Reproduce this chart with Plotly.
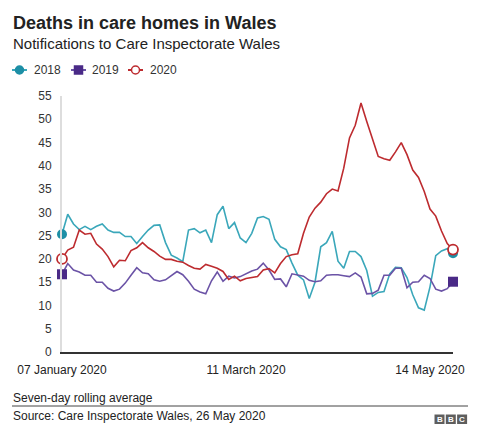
import plotly.graph_objects as go
import pandas as pd

# ---- data (seven-day rolling average, every second day) ----
dates = pd.date_range("2020-01-07", "2020-05-22", freq="2D")

deaths_2018 = [25.3, 29.6, 27.5, 26.3, 27.0, 26.3, 27.0, 27.5, 26.2, 25.7,
               25.7, 24.8, 24.8, 23.3, 24.8, 26.2, 27.2, 27.3, 23.5, 20.8,
               20.2, 19.4, 26.2, 26.5, 25.6, 26.2, 23.5, 29.5, 31.3, 26.5,
               27.8, 24.5, 23.5, 25.5, 28.8, 29.1, 28.5, 24.2, 22.6, 22.0,
               19.1, 16.5, 15.5, 11.5, 15.0, 22.6, 23.5, 25.9, 19.5, 18.0,
               21.6, 21.6, 20.5, 17.5, 12.0, 12.8, 13.0, 16.8, 18.2, 18.1,
               16.0, 12.3, 9.5, 9.0, 14.0, 20.7, 21.7, 22.2, 21.2]

deaths_2019 = [16.7, 19.0, 17.6, 17.2, 16.5, 16.5, 15.0, 15.0, 13.7, 13.1,
               13.5, 14.8, 16.5, 18.1, 17.0, 16.8, 15.5, 15.2, 15.5, 16.5,
               17.3, 16.6, 15.2, 13.5, 12.9, 12.5, 15.3, 17.2, 15.2, 16.3,
               15.9, 16.2, 16.8, 17.4, 17.8, 19.1, 17.6, 15.6, 15.7, 14.0,
               16.8, 16.6, 16.3, 15.4, 15.1, 15.3, 16.5, 16.6, 16.6, 16.4,
               16.2, 17.0, 16.1, 12.5, 12.6, 13.3, 16.5, 16.5, 18.0, 18.0,
               13.8, 15.0, 15.1, 16.5, 15.8, 13.5, 13.1, 13.6, 15.1]

deaths_2020 = [20.0, 21.9, 22.5, 26.2, 25.3, 25.5, 23.2, 22.1, 20.5, 18.3,
               19.7, 19.6, 21.8, 22.4, 23.5, 22.4, 21.6, 20.6, 19.9, 19.9,
               19.5, 19.3, 18.6, 18.0, 17.8, 18.8, 18.4, 18.0, 17.3, 15.6,
               16.3, 15.3, 15.8, 16.0, 16.2, 17.6, 17.9, 17.0, 19.0, 20.5,
               20.9, 21.1, 25.5, 29.0, 30.9, 32.2, 34.0, 35.0, 34.6, 39.5,
               46.0, 48.7, 53.5, 49.5, 45.8, 42.0, 41.5, 41.2, 43.0, 45.0,
               42.4, 39.1, 37.5, 34.5, 30.7, 29.2, 26.0, 23.3, 22.0]

series_names = ["2018", "2019", "2020"]
tick_dates = ["2020-01-07", "2020-03-11", "2020-05-14"]
tick_labels = ["07 January 2020", "11 March 2020", "14 May 2020"]
y_ticks = list(range(0, 56, 5))

# ---- styles ----
FONT = "Liberation Sans, Arial, Helvetica, sans-serif"
TEAL_LINE, TEAL_MARK = "#3aa7ba", "#1d8fa6"
PURP_LINE, PURP_MARK = "#6b53a6", "#4a2a87"
RED = "#bd2b2f"

W, H = 480, 439
L, R, T, B = 62, 453, 96, 352


def fx(px):
    return (px - L) / (R - L)


def fy(py):
    return (B - py) / (B - T)


fig = go.Figure()

styles = [
    (deaths_2018, TEAL_LINE, dict(symbol="circle", size=10, color=TEAL_MARK)),
    (deaths_2019, PURP_LINE, dict(symbol="square", size=10, color=PURP_MARK)),
    (deaths_2020, RED, dict(symbol="circle", size=10, color="white",
                            line=dict(color=RED, width=1.8))),
]

for name, (vals, lc, mk) in zip(series_names, styles):
    fig.add_trace(go.Scatter(x=dates, y=vals, mode="lines", name=name,
                             line=dict(color=lc, width=1.6),
                             showlegend=False, cliponaxis=False,
                             hoverinfo="x+y"))
for name, (vals, lc, mk) in zip(series_names, styles):
    fig.add_trace(go.Scatter(x=[dates[0], dates[-1]], y=[vals[0], vals[-1]],
                             mode="markers", name=name, marker=mk,
                             showlegend=False, cliponaxis=False))

shapes = []
annotations = []

# title / subtitle
annotations.append(dict(text="<b>Deaths in care homes in Wales</b>", x=fx(11), y=fy(22.5),
                        xref="paper", yref="paper", xanchor="left", yanchor="middle",
                        showarrow=False, font=dict(family=FONT, size=18, color="#222222")))
annotations.append(dict(text="Notifications to Care Inspectorate Wales", x=fx(11), y=fy(43),
                        xref="paper", yref="paper", xanchor="left", yanchor="middle",
                        showarrow=False, font=dict(family=FONT, size=15, color="#222222")))

# manual legend
leg_y = 70
legend_items = [
    (12, 32, TEAL_LINE, "circle", TEAL_MARK, TEAL_MARK),
    (71, 90, PURP_LINE, "square", PURP_MARK, PURP_MARK),
    (128, 148, RED, "circle", "white", RED),
]
for name, (x0, tx, lc, sym, fill, edge) in zip(series_names, legend_items):
    shapes.append(dict(type="line", xref="paper", yref="paper",
                       x0=fx(x0), x1=fx(x0 + 15), y0=fy(leg_y), y1=fy(leg_y),
                       line=dict(color=lc, width=2)))
    cx = x0 + 7.5
    r = 4
    shapes.append(dict(type="circle" if sym == "circle" else "rect",
                       xref="paper", yref="paper",
                       x0=fx(cx - r), x1=fx(cx + r), y0=fy(leg_y + r), y1=fy(leg_y - r),
                       fillcolor=fill, line=dict(color=edge, width=1.5)))
    annotations.append(dict(text=name, x=fx(tx), y=fy(leg_y), xref="paper", yref="paper",
                            xanchor="left", yanchor="middle", showarrow=False,
                            font=dict(family=FONT, size=12, color="#333333")))

# footer
annotations.append(dict(text="Seven-day rolling average", x=fx(11), y=fy(397.5),
                        xref="paper", yref="paper", xanchor="left", yanchor="middle",
                        showarrow=False, font=dict(family=FONT, size=12, color="#222222")))
shapes.append(dict(type="line", xref="paper", yref="paper", x0=fx(12), x1=fx(468),
                   y0=fy(406), y1=fy(406), line=dict(color="#444444", width=1)))
annotations.append(dict(text="Source: Care Inspectorate Wales, 26 May 2020", x=fx(11), y=fy(415.5),
                        xref="paper", yref="paper", xanchor="left", yanchor="middle",
                        showarrow=False, font=dict(family=FONT, size=12, color="#222222")))

# BBC blocks
for i, letter in enumerate("BBC"):
    bx0 = 434.5 + i * 11.3
    shapes.append(dict(type="rect", xref="paper", yref="paper",
                       x0=fx(bx0), x1=fx(bx0 + 10), y0=fy(424), y1=fy(414.5),
                       fillcolor="#5e5e5e", line=dict(width=0)))
    annotations.append(dict(text="<b>%s</b>" % letter, x=fx(bx0 + 5), y=fy(419.3),
                            xref="paper", yref="paper", xanchor="center", yanchor="middle",
                            showarrow=False, font=dict(family=FONT, size=8, color="white")))

fig.update_layout(
    width=W, height=H,
    margin=dict(l=L, r=W - R, t=T, b=H - B, pad=0),
    paper_bgcolor="white", plot_bgcolor="white",
    showlegend=False,
    font=dict(family=FONT, size=12, color="#333333"),
    shapes=shapes, annotations=annotations,
    xaxis=dict(type="date", range=[dates[0], dates[-1]],
               tickvals=tick_dates, ticktext=tick_labels,
               showgrid=False, zeroline=False,
               showline=True, linecolor="#333333", linewidth=1.5,
               ticks="outside", ticklen=6, tickcolor="rgba(0,0,0,0)",
               tickfont=dict(family=FONT, size=12, color="#222222"),
               fixedrange=True),
    yaxis=dict(range=[0, 55], tickvals=y_ticks,
               showgrid=False, zeroline=False,
               showline=True, linecolor="#dddddd", linewidth=2,
               ticks="outside", ticklen=6, tickcolor="rgba(0,0,0,0)",
               tickfont=dict(family=FONT, size=12, color="#333333"),
               fixedrange=True),
)

fig.write_html("out.html", config={"displayModeBar": False},
               post_script="document.body.style.margin='0';")
